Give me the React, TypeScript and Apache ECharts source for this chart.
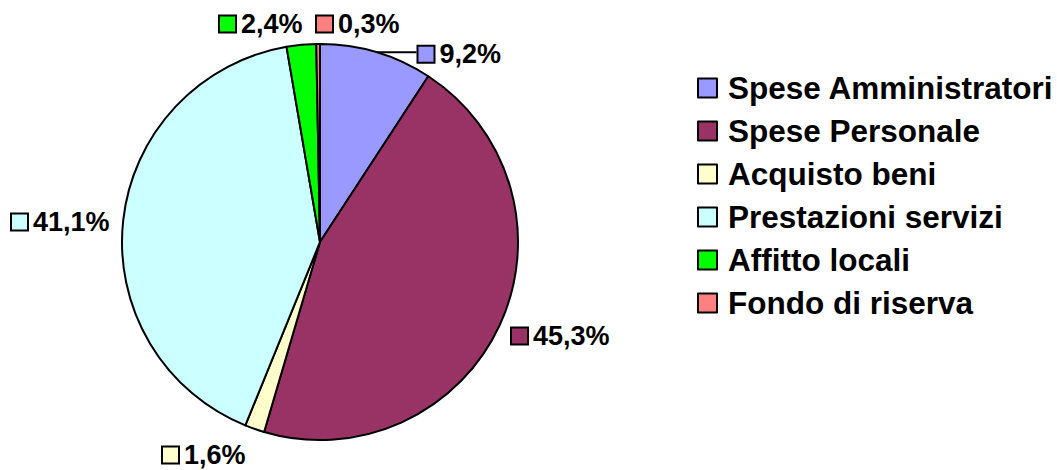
import React, { useEffect, useRef } from "react";
import * as echarts from "echarts";

const categories = [
  "Spese Amministratori",
  "Spese Personale",
  "Acquisto beni",
  "Prestazioni servizi",
  "Affitto locali",
  "Fondo di riserva",
];
const values = [9.2, 45.3, 1.6, 41.1, 2.4, 0.3];
const colors = ["#9999FF", "#993366", "#FFFFCC", "#CCFFFF", "#00FF00", "#FF8080"];
// label anchor positions (left edge of marker, vertical middle); null = default outside with leader line
const labelAnchors: (null | [number, number])[] = [null, [512, 336], [163, 455], [12, 222], [220, 24], [317, 24]];

const FONT = "'Liberation Sans', Arial, sans-serif";

export default function App() {
  const ref = useRef<HTMLDivElement>(null);
  useEffect(() => {
    if (!ref.current) return;
    const chart = echarts.init(ref.current, undefined, { renderer: "svg" });
    const rich: any = {
      v: { fontSize: 27, fontWeight: "bold", fontFamily: FONT, color: "#000", padding: [0, 0, 0, 6], lineHeight: 24 },
    };
    colors.forEach((c, i) => {
      rich["m" + i] = { width: 15, height: 15, backgroundColor: c, borderColor: "#000", borderWidth: 2 };
    });
    const data = categories.map((name, i) => ({
      name,
      value: values[i],
      itemStyle: { color: colors[i] },
      label: {
        formatter: "{m" + i + "|}{v|" + values[i].toFixed(1).replace(".", ",") + "%}",
      },
      labelLine: { show: i === 0 },
    }));
    chart.setOption({
      animation: false,
      backgroundColor: "#fff",
      legend: {
        orient: "vertical",
        left: 692,
        top: 67,
        icon: "rect",
        itemWidth: 19,
        itemHeight: 19,
        itemGap: 11,
        itemStyle: { borderColor: "#000", borderWidth: 2 },
        textStyle: { fontSize: 31.5, fontWeight: "bold", fontFamily: FONT, color: "#000", lineHeight: 32, padding: [0, 0, 0, 6] },
        data: categories,
      },
      series: [
        {
          type: "pie",
          center: [320, 242],
          radius: 198,
          startAngle: 90,
          clockwise: true,
          avoidLabelOverlap: false,
          itemStyle: { borderColor: "#000", borderWidth: 2 },
          emphasis: { disabled: true },
          label: {
            show: true,
            position: "outside",
            distanceToLabelLine: 2,
            rich,
          },
          labelLine: {
            show: false,
            length: 0.01,
            length2: 40,
            lineStyle: { color: "#000", width: 2 },
          },
          labelLayout: (params: any) => {
            const a = labelAnchors[params.dataIndex];
            if (!a) return { dy: 2 };
            return { x: a[0], y: a[1], align: "left", verticalAlign: "middle" };
          },
          data,
        },
      ],
    });
    return () => chart.dispose();
  }, []);
  return <div ref={ref} style={{ position: "absolute", left: 0, top: 0, width: 1057, height: 470 }} />;
}
